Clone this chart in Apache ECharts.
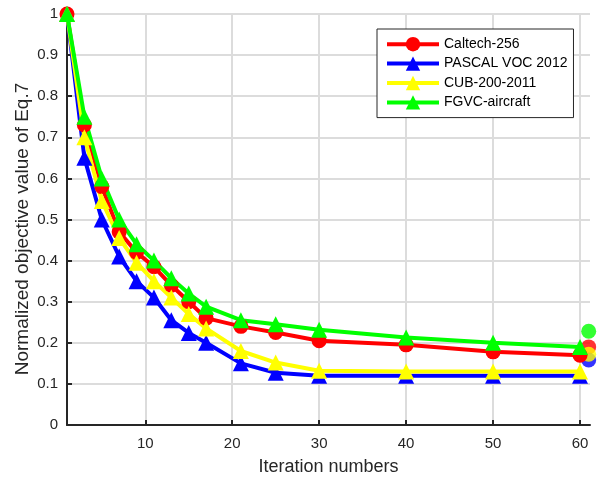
<!DOCTYPE html>
<html>
<head>
<meta charset="utf-8">
<script src="https://cdn.jsdelivr.net/npm/echarts@6/dist/echarts.min.js"></script>
<style>
html,body{margin:0;padding:0;background:#fff;}
#chart{width:602px;height:481px;}
</style>
</head>
<body>
<div id="chart"></div>
<script>
var iterations = [1, 3, 5, 7, 9, 11, 13, 15, 17, 21, 25, 30, 40, 50, 60];
var caltech = [1.0, 0.73, 0.58, 0.47, 0.42, 0.385, 0.34, 0.30, 0.26, 0.24, 0.225, 0.205, 0.195, 0.178, 0.17];
var pascal  = [1.0, 0.65, 0.50, 0.41, 0.35, 0.31, 0.255, 0.224, 0.20, 0.15, 0.127, 0.12, 0.12, 0.12, 0.12];
var cub     = [1.0, 0.70, 0.545, 0.455, 0.395, 0.35, 0.31, 0.27, 0.235, 0.18, 0.152, 0.132, 0.13, 0.13, 0.13];
var fgvc    = [1.0, 0.75, 0.60, 0.50, 0.44, 0.40, 0.357, 0.32, 0.288, 0.255, 0.245, 0.232, 0.213, 0.20, 0.19];
var endX = 61;
var endValues = {caltech: 0.19, pascal: 0.158, cub: 0.172, fgvc: 0.228};
var seriesNames = ['Caltech-256', 'PASCAL VOC 2012', 'CUB-200-2011', 'FGVC-aircraft'];
var xTicks = [10, 20, 30, 40, 50, 60];
var yAxisTitle = 'Normalized objective value of Eq.7';
var xAxisTitle = 'Iteration numbers';

var FONT = '"Liberation Sans", Arial, sans-serif';
function pairs(xs, ys){ return xs.map(function(x,i){ return [x, ys[i]]; }); }

var defs = [
  {name: seriesNames[0], data: caltech, color: '#ff0000', symbol: 'circle', end: endValues.caltech},
  {name: seriesNames[1], data: pascal,  color: '#0000ff', symbol: 'triangle', end: endValues.pascal},
  {name: seriesNames[2], data: cub,     color: '#ffff00', symbol: 'triangle', end: endValues.cub},
  {name: seriesNames[3], data: fgvc,    color: '#00ff00', symbol: 'triangle', end: endValues.fgvc}
];

var series = [];
defs.forEach(function(d){
  series.push({
    name: d.name, type: 'line', data: pairs(iterations, d.data),
    symbol: d.symbol, symbolSize: d.symbol === 'circle' ? 15 : 16,
    showAllSymbol: true,
    lineStyle: {color: d.color, width: 4},
    itemStyle: {color: d.color},
    emphasis: {disabled: true},
    clip: false
  });
});
defs.forEach(function(d){
  series.push({
    name: d.name + ' end', type: 'scatter', data: [[endX, d.end]],
    symbol: 'circle', symbolSize: 15,
    itemStyle: {color: d.color},
    emphasis: {disabled: true},
    clip: false
  });
});

var chart = echarts.init(document.getElementById('chart'));
chart.setOption({
  animation: false,
  backgroundColor: '#fff',
  grid: {left: 67, right: 12, top: 14, bottom: 56, containLabel: false},
  legend: {
    data: seriesNames,
    orient: 'vertical',
    left: 377, top: 29,
    padding: [8, 6, 8, 8],
    itemGap: 5,
    itemWidth: 52, itemHeight: 18,
    lineStyle: {width: 4},
    borderColor: '#262626', borderWidth: 1,
    backgroundColor: '#ffffff',
    textStyle: {fontSize: 14, color: '#000', fontFamily: FONT}
  },
  graphic: [{
    type: 'text', x: 23, y: 229, rotation: Math.PI / 2,
    style: {text: yAxisTitle, fontSize: 19, fill: '#262626', fontFamily: FONT,
      align: 'center', verticalAlign: 'middle'}
  }],
  xAxis: {
    type: 'value', min: 1, max: 61.15,
    minInterval: 10, maxInterval: 10,
    name: xAxisTitle, nameLocation: 'middle', nameGap: 33,
    nameTextStyle: {fontSize: 18, color: '#262626', fontFamily: FONT},
    axisLine: {show: true, lineStyle: {color: '#262626', width: 2}},
    axisTick: {show: true, inside: true, length: 5, lineStyle: {color: '#262626', width: 2}},
    axisLabel: {fontSize: 15, color: '#262626', fontFamily: FONT, margin: 11,
      showMinLabel: false, showMaxLabel: false,
      formatter: function(v){ return xTicks.indexOf(Math.round(v*1000)/1000) >= 0 ? String(v) : ''; }},
    splitLine: {show: true, showMinLine: false, showMaxLine: false, lineStyle: {color: '#dcdcdc', width: 2}}
  },
  yAxis: {
    type: 'value', min: 0, max: 1, interval: 0.1,
    axisLine: {show: true, lineStyle: {color: '#262626', width: 2}},
    axisTick: {show: true, inside: true, length: 5, lineStyle: {color: '#262626', width: 2}},
    axisLabel: {fontSize: 15, color: '#262626', fontFamily: FONT, margin: 9,
      formatter: function(v){ return String(parseFloat(v.toFixed(1))); }},
    splitLine: {show: true, lineStyle: {color: '#dcdcdc', width: 2}}
  },
  series: series
});
</script>
</body>
</html>
